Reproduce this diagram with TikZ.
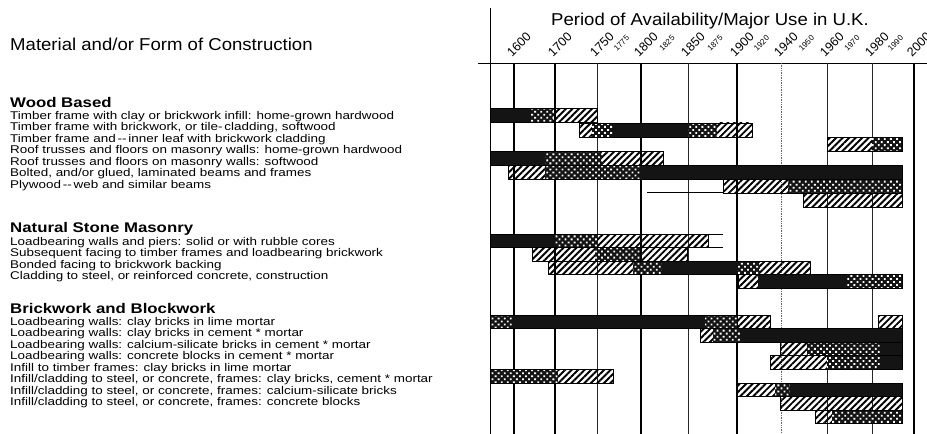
\documentclass[tikz,border=0pt]{standalone}
\usepackage{fontspec}
\usetikzlibrary{patterns.meta}
\setmainfont{Liberation Sans}
\newfontfamily\rowfont{Liberation Sans}[FakeStretch=1.2]
\newfontfamily\headfont{Liberation Sans}[FakeStretch=1.08]
\newfontfamily\yearfont{Liberation Sans}

% one filled piece of a bar: top, left, right, style
\newcommand\barpart[4]{\path[#4] (#2,#1) rectangle (#3,{#1+\rowh});}
% outline of a whole bar: top, left, right
\newcommand\barframe[3]{\draw[barline] (#2,#1) rectangle (#3,{#1+\rowh});}

\begin{document}
\begin{tikzpicture}[x=1pt,y=-1pt,
  dk/.style={fill=black!92},
  dt/.style={fill=black!92,postaction={pattern={Dots[radius=1.3pt,distance=4.3pt,angle=45]},pattern color=white}},
  ht/.style={pattern={Lines[angle=45,distance=4.6pt,line width=1.9pt]},pattern color=black},
  barline/.style={line width=0.8pt,black},
  gridthick/.style={line width=2.2pt,black},
  gridthin/.style={line width=0.8pt,black!85},
  griddot/.style={line width=0.7pt,black!60,densely dotted},
  rowtext/.style={anchor=base west,inner sep=0pt,font=\rowfont\fontsize{11.2}{11.2}\selectfont},
  heading/.style={anchor=base west,inner sep=0pt,font=\rowfont\bfseries\fontsize{14}{14}\selectfont},
  titletext/.style={inner sep=0pt,font=\headfont\fontsize{17.2}{17.2}\selectfont},
  yearbig/.style={anchor=base west,rotate=45,inner sep=0pt,font=\yearfont\fontsize{12.5}{12.5}\selectfont},
  yearsmall/.style={anchor=base west,rotate=45,inner sep=0pt,font=\yearfont\fontsize{8}{8}\selectfont}]

\useasboundingbox (0,0) rectangle (927,434);
\fill[white] (0,0) rectangle (927,434);

% ---------- axis frame and year grid ----------
\draw[line width=0.9pt] (490.5,8) -- (490.5,434);
\draw[line width=0.9pt] (478,63) -- (927,63);
\foreach \px in {514,555,641,737,914} \draw[gridthick] (\px,63) -- (\px,434);
\foreach \px in {597,688,827,872} \draw[gridthin] (\px,63) -- (\px,434);
\draw[griddot] (781,63) -- (781,434);

% ---------- titles ----------
\node[titletext,anchor=base] (period) at (710,25.7) {Period of Availability/Major Use in U.K.};
\node[titletext,anchor=base west] (material) at (10,50) {Material and/or Form of Construction};

% ---------- year labels ----------
\foreach \yr/\px in {1600/514,1700/555,1750/597,1800/641,1850/688,1900/737,1940/781,1960/827,1980/872,2000/914}
  \node[yearbig] (y\yr) at (\px-2,57.5) {\yr};
\foreach \yr/\px in {1775/619,1825/664.5,1875/712.5,1920/759,1950/804,1970/849.5,1990/893}
  \node[yearsmall] (y\yr) at (\px-2,51.5) {\yr};

% ---------- row captions ----------
\node[heading] (wood) at (10,107) {Wood Based};
\node[rowtext] (w1) at (10,119.0) {Timber frame with clay or brickwork infill: home-grown hardwood};
\node[rowtext] (w2) at (10,130.6) {Timber frame with brickwork, or tile-\,cladding, softwood};
\node[rowtext] (w3) at (10,142.1) {Timber frame and\,--\,inner leaf with brickwork cladding};
\node[rowtext] (w4) at (10,153.7) {Roof trusses and floors on masonry walls: home-grown hardwood};
\node[rowtext] (w5) at (10,165.2) {Roof trusses and floors on masonry walls: softwood};
\node[rowtext] (w6) at (10,176.8) {Bolted, and/or glued, laminated beams and frames};
\node[rowtext] (w7) at (10,188.3) {Plywood\,--\,web and similar beams};

\node[heading] (stone) at (10,232) {Natural Stone Masonry};
\node[rowtext] (n1) at (10,245.0) {Loadbearing walls and piers: solid or with rubble cores};
\node[rowtext] (n2) at (10,256.6) {Subsequent facing to timber frames and loadbearing brickwork};
\node[rowtext] (n3) at (10,268.1) {Bonded facing to brickwork backing};
\node[rowtext] (n4) at (10,279.7) {Cladding to steel, or reinforced concrete, construction};

\node[heading] (brick) at (10,313) {Brickwork and Blockwork};
\node[rowtext] (b1) at (10,325.0) {Loadbearing walls: clay bricks in lime mortar};
\node[rowtext] (b2) at (10,336.6) {Loadbearing walls: clay bricks in cement * mortar};
\node[rowtext] (b3) at (10,348.1) {Loadbearing walls: calcium-silicate bricks in cement * mortar};
\node[rowtext] (b4) at (10,359.7) {Loadbearing walls: concrete blocks in cement * mortar};
\node[rowtext] (b5) at (10,371.2) {Infill to timber frames: clay bricks in lime mortar};
\node[rowtext] (b6) at (10,382.8) {Infill/cladding to steel, or concrete, frames: clay bricks, cement * mortar};
\node[rowtext] (b7) at (10,394.3) {Infill/cladding to steel, or concrete, frames: calcium-silicate bricks};
\node[rowtext] (b8) at (10,405.9) {Infill/cladding to steel, or concrete, frames: concrete blocks};

% ---------- wood based bars ----------
\def\rowh{14}
\barpart{108.8}{490.5}{530}{dk}\barpart{108.8}{530}{553}{dt}\barpart{108.8}{553}{597}{ht}
\barframe{108.8}{490.5}{597}
\barpart{122.9}{579}{592}{ht}\barpart{122.9}{592}{613}{dt}\barpart{122.9}{613}{688}{dk}
\barpart{122.9}{688}{717}{dt}\barpart{122.9}{717}{752}{ht}
\barframe{122.9}{579}{752}
\barpart{137}{827}{872}{ht}\barpart{137}{872}{902}{dt}
\barframe{137}{827}{902}
\barpart{151.1}{490.5}{545}{dk}\barpart{151.1}{545}{602}{dt}\barpart{151.1}{602}{663}{ht}
\barframe{151.1}{490.5}{663}
\barpart{165.2}{508}{545}{ht}\barpart{165.2}{545}{640}{dt}\barpart{165.2}{640}{902}{dk}
\barframe{165.2}{508}{902}
\draw[barline] (647,192.3) -- (723,192.3);
\barpart{179.3}{723}{788}{ht}\barpart{179.3}{788}{902}{dt}
\barframe{179.3}{723}{902}
\barpart{193.4}{803}{902}{ht}
\barframe{193.4}{803}{902}

% ---------- natural stone bars ----------
\def\rowh{13.6}
\barpart{234}{490.5}{555}{dk}\barpart{234}{555}{597}{dt}\barpart{234}{597}{708}{ht}
\barframe{234}{490.5}{708}
\draw[barline] (708,234) -- (723,234) (708,247.6) -- (723,247.6);
\barpart{247.6}{532}{595}{ht}\barpart{247.6}{595}{640}{dt}\barpart{247.6}{640}{687}{ht}
\barframe{247.6}{532}{687}
\barpart{261.2}{548}{633}{ht}\barpart{261.2}{633}{662}{dt}\barpart{261.2}{662}{738}{dk}
\barpart{261.2}{738}{760}{dt}\barpart{261.2}{760}{810}{ht}
\barframe{261.2}{548}{810}
\barpart{274.8}{738}{758}{ht}\barpart{274.8}{758}{847}{dk}\barpart{274.8}{847}{902}{dt}
\barframe{274.8}{738}{902}

% ---------- brickwork and blockwork bars ----------
\barpart{315}{490.5}{512}{dt}\barpart{315}{512}{705}{dk}\barpart{315}{705}{737}{dt}\barpart{315}{737}{770}{ht}
\barframe{315}{490.5}{770}
\barpart{315}{878}{902}{ht}
\barframe{315}{878}{902}
\barpart{328.6}{700}{713}{ht}\barpart{328.6}{713}{740}{dt}\barpart{328.6}{740}{902}{dk}
\barframe{328.6}{700}{902}
\barpart{342.2}{780}{807}{ht}\barpart{342.2}{807}{880}{dt}\barpart{342.2}{880}{902}{dk}
\barframe{342.2}{780}{902}
\barpart{355.8}{770}{827}{ht}\barpart{355.8}{827}{880}{dt}\barpart{355.8}{880}{902}{dk}
\barframe{355.8}{770}{902}
\barpart{369.4}{490.5}{558}{dt}\barpart{369.4}{558}{613}{ht}
\barframe{369.4}{490.5}{613}
\barpart{383}{737}{775}{ht}\barpart{383}{775}{790}{dt}\barpart{383}{790}{902}{dk}
\barframe{383}{737}{902}
\barpart{396.6}{780}{902}{ht}
\barframe{396.6}{780}{902}
\barpart{410.2}{815}{832}{ht}\barpart{410.2}{832}{902}{dt}
\barframe{410.2}{815}{902}

\end{tikzpicture}
\end{document}
